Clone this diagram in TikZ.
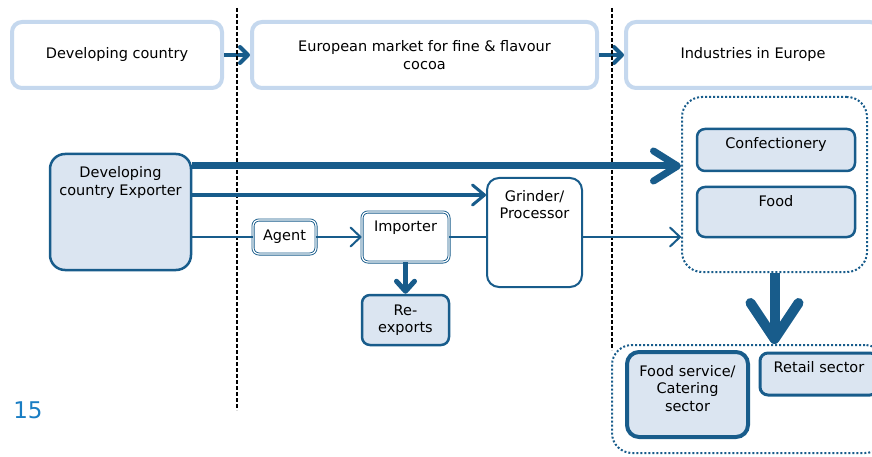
\documentclass[tikz,border=0pt]{standalone}
\usepackage{fontspec}
\setmainfont{DejaVu Sans}
\usetikzlibrary{arrows.meta}
\definecolor{flowblue}{RGB}{24,92,139}
\definecolor{headblue}{RGB}{197,216,238}
\definecolor{boxfill}{RGB}{219,229,241}
\definecolor{pageblue}{RGB}{25,125,195}
\begin{document}
\begin{tikzpicture}[x=1pt,y=-1pt,
    every node/.style={font=\fontsize{14.5}{17.5}\selectfont,inner sep=0pt},
    header/.style={draw=headblue,line width=4pt,rounded corners=10pt,fill=white,minimum height=66pt,align=center},
    actor/.style={draw=flowblue,line width=2.5pt,rounded corners=12pt,fill=boxfill,align=center},
    plainbox/.style={draw=flowblue,line width=2pt,rounded corners=12pt,fill=white},
    twin/.style={draw=flowblue,double=white,double distance=1.2pt,line width=0.9pt,rounded corners=6pt,fill=white},
    group/.style={draw=flowblue,line width=2pt,dotted,rounded corners=20pt},
    topline/.style={align=center,anchor=north,inner sep=10pt},
    divider/.style={line width=2pt,dash pattern=on 4pt off 2pt},
    thinflow/.style={draw=flowblue,line width=2pt},
    thinarrow/.style={thinflow,-{Straight Barb[length=10pt,width=19pt,round]}},
    midarrow/.style={draw=flowblue,line width=3pt,-{Straight Barb[length=12pt,width=20pt,round]}},
    fatarrow/.style={draw=flowblue,line width=7pt,-{Straight Barb[length=24pt,width=30pt,round]}},
    toparrow/.style={draw=flowblue,line width=4pt,-{Straight Barb[length=8pt,width=16pt,round]}},
    droparrow/.style={draw=flowblue,line width=5pt,-{Straight Barb[length=10pt,width=18pt,round]}},
    bigarrow/.style={draw=flowblue,line width=10pt,-{Straight Barb[length=36pt,width=48pt,round]}}]
\useasboundingbox (0,0) rectangle (872,457);
% stages along the top
\node[header,minimum width=210pt] (devc) at (117,55) {Developing country};
\node[header,minimum width=345pt] (eumkt) at (424.5,55) {European market for fine \& flavour\\cocoa};
\node[header,minimum width=254pt] (indeu) at (753,55) {Industries in Europe};
\draw[toparrow] (devc) -- (eumkt);
\draw[toparrow] (eumkt) -- (indeu);
% borders
\draw[divider] (237,8) -- (237,410);
\draw[divider] (612,8) -- (612,350);
% chain
\node[actor,minimum width=141pt,minimum height=116pt,rounded corners=15pt,
  label={[topline,yshift=-4pt]north:Developing\\country Exporter}] (exp) at (120.5,212) {};
\node[twin,minimum width=63pt,minimum height=34pt] (agent) at (284.5,237) {Agent};
\node[twin,minimum width=87pt,minimum height=50pt,label={[topline,yshift=1pt]north:Importer}] (imp) at (405.5,237) {};
\node[actor,minimum width=87pt,minimum height=50pt,rounded corners=8pt] (reexp) at (405.5,320) {Re-\\exports};
\node[plainbox,minimum width=95pt,minimum height=109pt,
  label={[topline,yshift=-3pt]north:Grinder/\\Processor}] (grind) at (534.5,232.5) {};
% industries
\node[group,minimum width=185pt,minimum height=175pt] (ind) at (774.5,184.5) {};
\node[actor,minimum width=158pt,minimum height=42pt,rounded corners=8pt,
  label={[topline]north:Confectionery}] (conf) at (776,150) {};
\node[actor,minimum width=158pt,minimum height=50pt,rounded corners=8pt,
  label={[topline]north:Food}] (food) at (776,212) {};
\node[group,minimum width=273pt,minimum height=108pt] (svc) at (748.5,399) {};
\node[actor,line width=4pt,minimum width=121pt,minimum height=85pt,
  label={[topline,yshift=-5pt]north:Food service/\\Catering\\sector}] (cater) at (687.5,394.5) {};
\node[actor,line width=3pt,minimum width=118pt,minimum height=42pt,rounded corners=8pt,
  label={[topline]north:Retail sector}] (retail) at (819,374) {};
% flows
\draw[fatarrow] (exp.east |- 0,166) -- (ind.west |- 0,166);
\draw[midarrow] (exp.east |- 0,195) -- (grind.west |- 0,195);
\draw[thinflow] (exp.east |- agent) -- (agent);
\draw[thinarrow] (agent) -- (imp);
\draw[thinflow] (imp) -- (imp -| grind.west);
\draw[thinarrow] (grind.east |- imp) -- (ind.west |- imp);
\draw[droparrow] (imp) -- (reexp);
\draw[bigarrow] (ind.south) -- (ind.south |- svc.north);
\node[text=pageblue,font=\fontsize{23}{27}\selectfont] (pgnum) at (28,410) {15};
\end{tikzpicture}
\end{document}
